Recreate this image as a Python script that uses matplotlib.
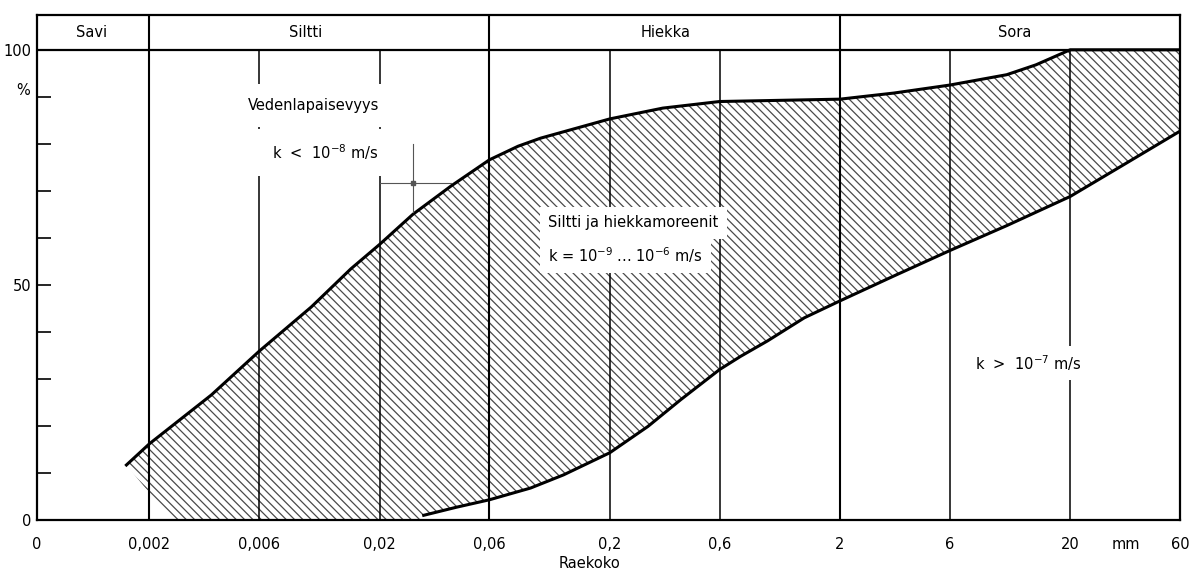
import numpy as np
import matplotlib
matplotlib.use("Agg")
from matplotlib import pyplot as plt
from matplotlib import transforms

# Raekoko-asteikko (mm) ja pystyviivat
grid_x = [0.002, 0.006, 0.02, 0.06, 0.2, 0.6, 2, 6, 20, 60]
grid_labels = ["0,002", "0,006", "0,02", "0,06", "0,2", "0,6", "2", "6", "20", "60"]
class_bounds = [0.002, 0.06, 2]          # lajitteiden rajat (jatkuvat otsikkoriviin)
class_names = ["Savi", "Siltti", "Hiekka", "Sora"]
class_centers = [0.00112, 0.0095, 0.35, 11.5]
x_zero = 0.00065                          # "0" vasemmassa reunassa

# Moreenivyöhykkeen yläraja (hienoaineksen puoli)
upper_x = [0.00159, 0.002, 0.00372, 0.006, 0.0101, 0.0150, 0.02, 0.0279, 0.0408,
           0.06, 0.08, 0.1, 0.2, 0.34, 0.6, 2, 3.43, 6, 10.6, 14.2, 20, 60]
upper_y = [11.7, 16.2, 26.6, 35.9, 45.3, 53.4, 58.6, 65.0, 71.0,
           76.6, 79.5, 81.2, 85.3, 87.6, 89.0, 89.5, 90.8, 92.5, 94.7, 96.8, 100, 100]

# Alaraja (karkea puoli)
lower_x = [0.0311, 0.043, 0.06, 0.0906, 0.126, 0.2, 0.293, 0.407, 0.6, 0.74,
           0.97, 1.4, 2, 3.43, 6, 10.6, 20, 33.2, 60]
lower_y = [1.0, 2.7, 4.3, 6.8, 9.6, 14.3, 19.9, 25.6, 32.0, 34.8,
           38.1, 43.0, 46.6, 51.9, 57.3, 62.6, 68.8, 75.2, 82.7]
hatch_foot_x = 0.0025                     # viivoituksen vasen kärki akselilla

# pieni ristikko 0,02...0,06 välissä
cross_x, cross_y = 0.0279, 71.7

fig = plt.figure(figsize=(11.89, 5.71), dpi=100)
ax = fig.add_axes([37 / 1189, 1 - 520 / 571, (1180 - 37) / 1189, (520 - 15) / 571])
ax.set_xscale("log")
ax.set_xlim(x_zero, 60)
ax.set_ylim(0, 107.4)

plt.rcParams["hatch.linewidth"] = 0.9

# viivoitettu alue
poly_x = upper_x + lower_x[::-1] + [lower_x[0], hatch_foot_x]
poly_y = upper_y + lower_y[::-1] + [0, 0]
ax.fill(poly_x, poly_y, facecolor="none", edgecolor="#4a4a4a", hatch="\\\\\\\\",
        linewidth=0, zorder=1)

# pystyviivat
for gx in grid_x[:-1]:
    top = 107.4 if gx in class_bounds else 100
    ax.vlines(gx, 0, top, color="black", lw=1.5 if gx in class_bounds else 1.1, zorder=2)
ax.axhline(100, color="black", lw=1.6, zorder=2)

# rajakäyrät
ax.plot(upper_x, upper_y, color="black", lw=2.2, zorder=3, solid_joinstyle="round")
ax.plot(lower_x, lower_y, color="black", lw=2.2, zorder=3, solid_joinstyle="round")

# ristikko
ax.plot([0.02, 0.041], [cross_y, cross_y], color="#555", lw=0.8, zorder=3)
ax.plot([cross_x, cross_x], [80.0, 65.5], color="#555", lw=0.8, zorder=3)
ax.plot(cross_x, cross_y, "s", ms=3, color="#555", zorder=3)

# otsikkorivi
for name, cx in zip(class_names, class_centers):
    ax.text(cx, 103.7, name, ha="center", va="center", fontsize=10.5)

fs = 10.5
box = dict(facecolor="white", edgecolor="none", pad=6)
ax.text(0.0103, 88.1, "Vedenlapaisevyys", ha="center", va="center", fontsize=fs,
        bbox=dict(facecolor="white", edgecolor="none", pad=10), zorder=4)
ax.text(0.0116, 78.2, r"k  <  10$^{-8}$ m/s", ha="center", va="center", fontsize=fs,
        bbox=dict(facecolor="white", edgecolor="none", pad=10), zorder=4)
ax.text(0.108, 63.2, "Siltti ja hiekkamoreenit", ha="left", va="center", fontsize=fs,
        bbox=box, zorder=4)
ax.text(0.108, 56.4, r"k = 10$^{-9}$ ... 10$^{-6}$ m/s", ha="left", va="center",
        fontsize=fs, bbox=box, zorder=4)
ax.text(7.7, 33.4, r"k  >  10$^{-7}$ m/s", ha="left", va="center", fontsize=fs,
        bbox=dict(facecolor="white", edgecolor="none", pad=5), zorder=4)

# akselit
for s in ax.spines.values():
    s.set_linewidth(1.6)
ax.set_xticks([x_zero] + grid_x)
ax.set_xticklabels(["0"] + grid_labels, fontsize=10.5)
ax.xaxis.set_minor_locator(matplotlib.ticker.NullLocator())
ax.tick_params(axis="x", length=0, pad=12)
ax.set_yticks([0, 50, 100])
ax.set_yticklabels(["0", "50", "100"], fontsize=10.5)
ax.set_yticks([10, 20, 30, 40, 60, 70, 80, 90], minor=True)
ax.tick_params(axis="y", which="major", direction="in", length=10, width=1.2, pad=4)
ax.tick_params(axis="y", which="minor", direction="in", length=10, width=1.2)

trans = transforms.blended_transform_factory(ax.transData, ax.transAxes)
ax.text(35, -0.033, "mm", transform=trans, ha="center", va="top", fontsize=10.5)
ax.text(-0.012, 91.3, "%", transform=transforms.blended_transform_factory(ax.transAxes, ax.transData),
        ha="center", va="center", fontsize=10.5)
fig.text(590 / 1189, 1 - 563 / 571, "Raekoko", ha="center", va="center", fontsize=10.5)

plt.savefig("out.png", dpi=100)
